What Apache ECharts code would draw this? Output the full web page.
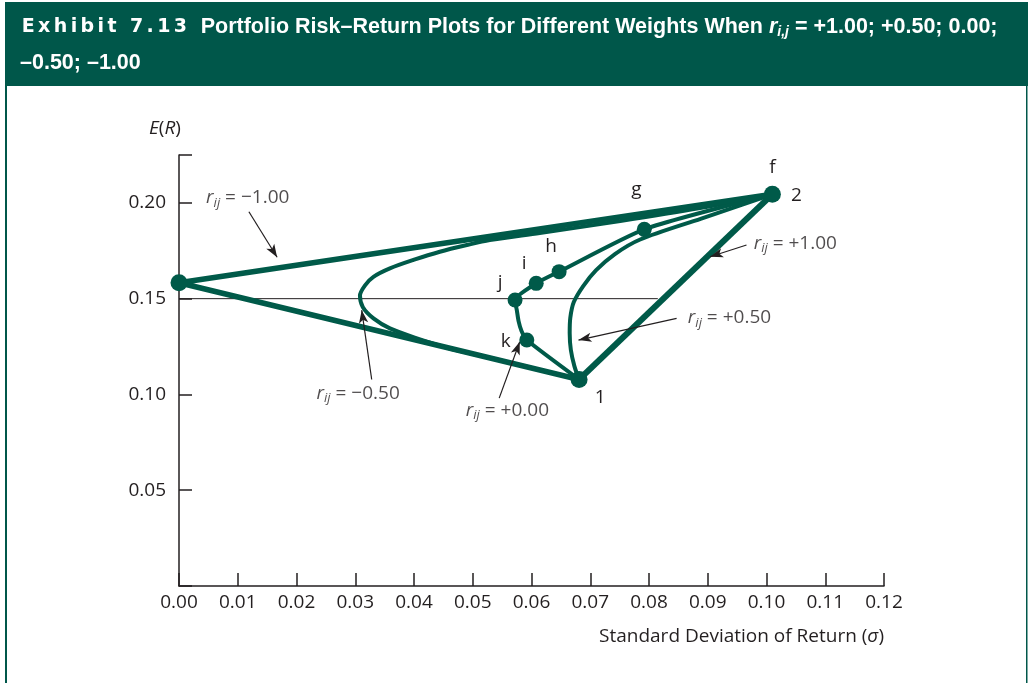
<!DOCTYPE html>
<html>
<head>
<meta charset="utf-8">
<script src="https://cdn.jsdelivr.net/npm/echarts@6/dist/echarts.min.js"></script>
<style>
  html, body { margin: 0; padding: 0; background: #fff; }
  #chart { width: 1028px; height: 683px; }
</style>
</head>
<body>
<div id="chart"></div>
<script>
  var asset1 = [0.0681, 0.1078]
  var asset2 = [0.1010, 0.2045]
  var riskless = [0, 0.1583]

  var corrPlusOne = [asset1, asset2]
  var corrMinusOne = [asset2, riskless, asset1]
  var corrMinusHalf = [
    asset2, [0.0887, 0.1973], [0.0751, 0.1905], [0.0614, 0.1843], [0.0529, 0.1806],
    [0.0490, 0.1780], [0.0444, 0.1745], [0.0399, 0.1702], [0.0359, 0.1658],
    [0.0331, 0.1614], [0.0317, 0.1571], [0.0308, 0.1516], [0.0313, 0.1455],
    [0.0331, 0.1397], [0.0359, 0.1345], [0.0405, 0.1293], [0.0461, 0.1240],
    [0.0512, 0.1203], [0.0597, 0.1141], asset1
  ]
  var corrPlusHalf = [
    asset2, [0.0889, 0.1918], [0.0785, 0.1809], [0.0742, 0.1733], [0.0710, 0.1649],
    [0.0688, 0.1566], [0.0672, 0.1482], [0.0666, 0.1399], [0.0665, 0.1320],
    [0.0667, 0.1232], [0.0673, 0.1148], asset1
  ]
  var corrZero = [
    asset2, [0.0792, 0.1862], [0.0647, 0.1641], [0.0608, 0.1580], [0.0572, 0.1493],
    [0.0575, 0.1440], [0.0578, 0.1383], [0.0583, 0.1331], [0.0592, 0.1284], asset1
  ]
  // weight points on the zero-correlation curve
  var weightNames = ['g', 'h', 'i', 'j', 'k']
  var weightPoints = [[0.0792, 0.1862], [0.0647, 0.1641], [0.0608, 0.1580], [0.0572, 0.1493], [0.0592, 0.1284]]

  var refLine = [[0, 0.15], [0.0815, 0.15]]

  // correlation labels and their arrows
  var corrLabels = ['−1.00', '−0.50', '+0.00', '+0.50', '+1.00']
  var corrLabelPos = [[0.0117, 0.2026], [0.0305, 0.1007], [0.0559, 0.0918], [0.0937, 0.1399], [0.1049, 0.1790]]
  var corrArrows = [
    [[0.0119, 0.1954], [0.0167, 0.1716]],
    [[0.0328, 0.1078], [0.0311, 0.1440]],
    [[0.0545, 0.0981], [0.0580, 0.1275]],
    [[0.0847, 0.1397], [0.0680, 0.1284]],
    [[0.0966, 0.1780], [0.0904, 0.1719]]
  ]

  var yLabels = [0.05, 0.10, 0.15, 0.20]

  var green = '#005a49'
  var ink = '#231f20'
  var font = 'Open Sans'
  var fs = 19

  var chart = echarts.init(document.getElementById('chart'))

  var exhibit = 'Exhibit 7.13'.split('').map(function (c) {
    return '{ex|' + c + '}'
  }).join('')

  var option = {
    animation: false,
    title: {
      left: 20,
      top: 9,
      padding: 0,
      text: exhibit + '{b|  Portfolio Risk–Return Plots for Different Weights When }{bi|r}{bs|i,j}{b| = +1.00; +0.50; 0.00;}\n{b|–0.50; –1.00}',
      textStyle: {
        lineHeight: 36,
        rich: {
          ex: { fontFamily: 'DejaVu Sans', fontWeight: 'bold', fontSize: 19, color: '#fff', padding: [0, 1.7, 0, 1.7], lineHeight: 36 },
          b: { fontFamily: 'Liberation Sans', fontWeight: 'bold', fontSize: 21.5, color: '#fff', lineHeight: 36 },
          bi: { fontFamily: 'Liberation Sans', fontWeight: 'bold', fontStyle: 'italic', fontSize: 21.5, color: '#fff', lineHeight: 36 },
          bs: { fontFamily: 'Liberation Sans', fontWeight: 'bold', fontStyle: 'italic', fontSize: 14, color: '#fff', lineHeight: 36, padding: [10, 0, 0, 0] }
        }
      }
    },
    graphic: [
      { type: 'rect', z: -10, shape: { x: 5, y: 2, width: 1023, height: 84 }, style: { fill: '#00574a' } },
      { type: 'rect', z: -10, shape: { x: 5, y: 86, width: 2, height: 597 }, style: { fill: '#00574a' } },
      { type: 'rect', z: -10, shape: { x: 1026, y: 86, width: 1.5, height: 597 }, style: { fill: '#00574a' } },
      {
        type: 'text',
        right: 144,
        top: 627,
        style: {
          text: 'Standard Deviation of Return ({i|σ})',
          fontFamily: font,
          fontSize: fs,
          fill: ink,
          rich: { i: { fontFamily: font, fontStyle: 'italic', fontSize: fs, fill: ink } }
        }
      }
    ],
    grid: { left: 179, right: 144, top: 155, bottom: 97 },
    xAxis: {
      type: 'value',
      min: 0,
      max: 0.12,
      interval: 0.01,
      axisLine: { lineStyle: { color: ink, width: 1.5 } },
      axisTick: { inside: true, length: 13, lineStyle: { color: ink, width: 1.5 } },
      axisLabel: {
        margin: 7,
        color: ink,
        fontFamily: font,
        fontSize: fs,
        formatter: function (v) { return v.toFixed(2) }
      },
      splitLine: { show: false }
    },
    yAxis: {
      type: 'value',
      min: 0,
      max: 0.225,
      interval: 0.05,
      name: '{i|E}({i|R})',
      nameLocation: 'end',
      nameGap: 17,
      nameTextStyle: {
        color: ink,
        fontFamily: font,
        fontSize: fs,
        padding: [0, 28, 0, 0],
        rich: { i: { fontFamily: font, fontStyle: 'italic', fontSize: fs, color: ink } }
      },
      axisLine: { lineStyle: { color: ink, width: 1.5 } },
      axisTick: { inside: true, length: 13, lineStyle: { color: ink, width: 1.5 } },
      axisLabel: {
        margin: 13,
        color: ink,
        fontFamily: font,
        fontSize: fs,
        formatter: function (v) {
          var hit = yLabels.some(function (t) { return Math.abs(t - v) < 1e-9 })
          return hit ? v.toFixed(2) : ''
        }
      },
      splitLine: { show: false }
    },
    series: [
      {
        type: 'line',
        data: refLine,
        symbol: 'none',
        silent: true,
        lineStyle: { color: ink, width: 1 },
        z: 1,
        markLine: {
          silent: true,
          symbol: ['none', 'arrow'],
          symbolSize: [7, 13],
          label: { show: false },
          lineStyle: { color: ink, width: 1.2, type: 'solid' },
          data: corrArrows.map(function (a) {
            return [{ coord: a[0] }, { coord: a[1] }]
          })
        }
      },
      {
        type: 'line', data: corrMinusHalf, symbol: 'none', smooth: 0.3, silent: true,
        lineStyle: { color: green, width: 4 }, z: 2
      },
      {
        type: 'line', data: corrPlusHalf, symbol: 'none', smooth: 0.3, silent: true,
        lineStyle: { color: green, width: 4 }, z: 2
      },
      {
        type: 'line', data: corrZero, symbol: 'none', smooth: 0.2, silent: true,
        lineStyle: { color: green, width: 4 }, z: 2
      },
      {
        type: 'line', data: corrMinusOne, symbol: 'none', silent: true,
        lineStyle: { color: green, width: 5.5 }, z: 3
      },
      {
        type: 'line', data: corrPlusOne, symbol: 'none', silent: true,
        lineStyle: { color: green, width: 6 }, z: 3
      },
      {
        type: 'scatter',
        symbolSize: 17,
        silent: true,
        z: 5,
        itemStyle: { color: green, opacity: 1 },
        label: {
          show: true,
          position: 'inside',
          color: ink,
          fontFamily: font,
          fontSize: fs
        },
        data: [
          { value: asset2, label: { formatter: 'f', offset: [0, -27] } },
          { value: asset2, symbolSize: 0, label: { formatter: '2', offset: [24, 1] } },
          { value: asset1, label: { formatter: '1', offset: [21, 18] } },
          { value: riskless, label: { show: false } }
        ].concat(weightPoints.map(function (p, i) {
          var offs = [[-8, -40], [-8, -25], [-12, -20], [-15, -17], [-21, 2]]
          return { value: p, symbolSize: 15, label: { formatter: weightNames[i], offset: offs[i] } }
        }))
      },
      {
        type: 'scatter',
        symbolSize: 1,
        silent: true,
        z: 6,
        itemStyle: { color: 'rgba(0,0,0,0)' },
        label: {
          show: true,
          position: 'inside',
          color: ink,
          fontFamily: font,
          fontSize: fs,
          rich: {
            r: { fontFamily: font, fontStyle: 'italic', fontSize: fs, color: ink, lineHeight: 24 },
            s: { fontFamily: font, fontStyle: 'italic', fontSize: 13, color: ink, lineHeight: 24, padding: [11, 0, 0, 0] },
            t: { fontFamily: font, fontSize: fs, color: ink, lineHeight: 24 }
          },
          formatter: function (p) {
            return '{r|r}{s|ij}{t| = ' + corrLabels[p.dataIndex] + '}'
          }
        },
        data: corrLabelPos
      }
    ]
  }

  chart.setOption(option)
</script>
</body>
</html>
